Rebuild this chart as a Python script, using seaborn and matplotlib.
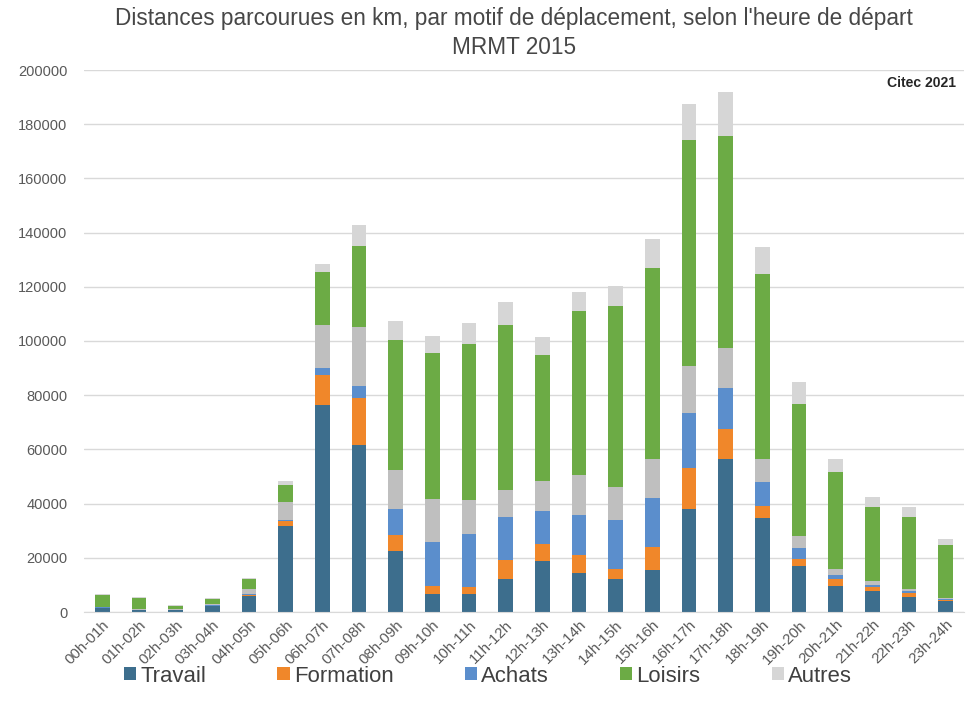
import pandas as pd
import matplotlib
matplotlib.use("Agg")
import matplotlib.pyplot as plt
from matplotlib import font_manager
from matplotlib.patches import Patch
import seaborn as sns

heures = ["00h-01h", "01h-02h", "02h-03h", "03h-04h", "04h-05h", "05h-06h",
          "06h-07h", "07h-08h", "08h-09h", "09h-10h", "10h-11h", "11h-12h",
          "12h-13h", "13h-14h", "14h-15h", "15h-16h", "16h-17h", "17h-18h",
          "18h-19h", "19h-20h", "20h-21h", "21h-22h", "22h-23h", "23h-24h"]

# km par motif (empilés de bas en haut)
travail = [1500, 600, 800, 2100, 5900, 31800, 76300, 61700, 22500, 6800, 6500, 12100,
           18800, 14500, 12100, 15500, 38000, 56500, 34800, 16800, 9600, 7600, 5500, 4200]
formation = [100, 100, 0, 100, 200, 1700, 11300, 17400, 6000, 2800, 2700, 7000,
             6300, 6400, 3900, 8500, 15300, 11100, 4200, 2600, 2700, 1600, 1600, 200]
achats = [200, 100, 100, 200, 400, 500, 2400, 4300, 9400, 16200, 19500, 16000,
          12000, 14800, 17800, 17900, 20200, 15100, 9000, 4200, 1500, 900, 500, 300]
# segment gris moyen sous Loisirs, sans entrée dans la légende
gris = [200, 200, 100, 600, 2100, 6700, 16000, 21600, 14400, 15800, 12500, 9800,
        11200, 14700, 12300, 14500, 17100, 14900, 8300, 4400, 2000, 1500, 1000, 500]
loisirs = [4300, 4300, 1300, 1800, 3700, 6100, 19500, 30100, 47900, 54000, 57700, 61100,
           46700, 60500, 66700, 70400, 83700, 78200, 68500, 48700, 35700, 27200, 26500, 19400]
autres = [200, 300, 100, 300, 400, 1600, 2800, 7600, 7200, 6100, 7700, 8400,
          6500, 7200, 7500, 10900, 13000, 16000, 9800, 8300, 4900, 3700, 3500, 2300]

legende = ["Travail", "Formation", "Achats", "Loisirs", "Autres"]
couleurs = {"Travail": "#3d6e8d", "Formation": "#f0872a", "Achats": "#5b8ecc",
            "gris": "#bfbfbf", "Loisirs": "#6cab45", "Autres": "#d6d6d6"}

df = pd.DataFrame({"heure": heures, "Travail": travail, "Formation": formation,
                   "Achats": achats, "gris": gris, "Loisirs": loisirs, "Autres": autres})
ordre = ["Travail", "Formation", "Achats", "gris", "Loisirs", "Autres"]
cumul = df[ordre].cumsum(axis=1)

sns.set_style("white")
noms = {f.name for f in font_manager.fontManager.ttflist}
narrow = "Liberation Sans Narrow" in noms
k = 1.0 if narrow else 0.84
plt.rcParams["font.family"] = ["Liberation Sans Narrow", "Liberation Sans", "DejaVu Sans"]
gris_txt = "#595959"

fig = plt.figure(figsize=(9.74, 7.15), dpi=100)
ax = fig.add_axes([84 / 974, 1 - 612 / 715, 880 / 974, 542 / 715])

# on dessine les cumuls du plus haut au plus bas
for motif in ordre[::-1]:
    sns.barplot(x=df["heure"], y=cumul[motif], color=couleurs[motif], width=0.4,
                saturation=1, errorbar=None, linewidth=0, ax=ax)

ax.set_ylim(0, 200000)
ax.set_xlim(-0.5, 23.5)
ax.set_yticks(range(0, 200001, 20000))
ax.set_yticklabels([str(v) for v in range(0, 200001, 20000)])
ax.yaxis.grid(True, color="#d9d9d9", lw=1)
ax.set_axisbelow(True)
ax.set_xlabel("")
ax.set_ylabel("")
for s in ["top", "right", "left"]:
    ax.spines[s].set_visible(False)
ax.spines["bottom"].set_color("#d9d9d9")
ax.tick_params(axis="both", length=0, colors=gris_txt)
ax.tick_params(axis="y", labelsize=12.5 * k, pad=12)
ax.tick_params(axis="x", labelsize=13 * k, pad=4)
plt.setp(ax.get_xticklabels(), rotation=45, ha="right", rotation_mode="anchor")

fig.text(514 / 974, 1 - 19 / 715,
         "Distances parcourues en km, par motif de déplacement, selon l'heure de départ",
         ha="center", va="center", fontsize=19.4 * k, color="#474747")
fig.text(514 / 974, 1 - 48 / 715, "MRMT 2015", ha="center", va="center",
         fontsize=19.4 * k, color="#474747")
fig.text(956 / 974, 1 - 83 / 715, "Citec 2021", ha="right", va="center",
         fontsize=12 * k, fontweight="bold", color="#262626")

poignees = [Patch(facecolor=couleurs[m], edgecolor="none") for m in legende]
fig.legend(poignees, legende, loc="center", bbox_to_anchor=(488 / 974, 1 - 676 / 715),
           ncol=5, frameon=False, fontsize=19 * k, handlelength=0.55, handleheight=0.55,
           handletextpad=0.2, columnspacing=3.2, labelcolor="#404040")

fig.savefig("out.png", dpi=100)
